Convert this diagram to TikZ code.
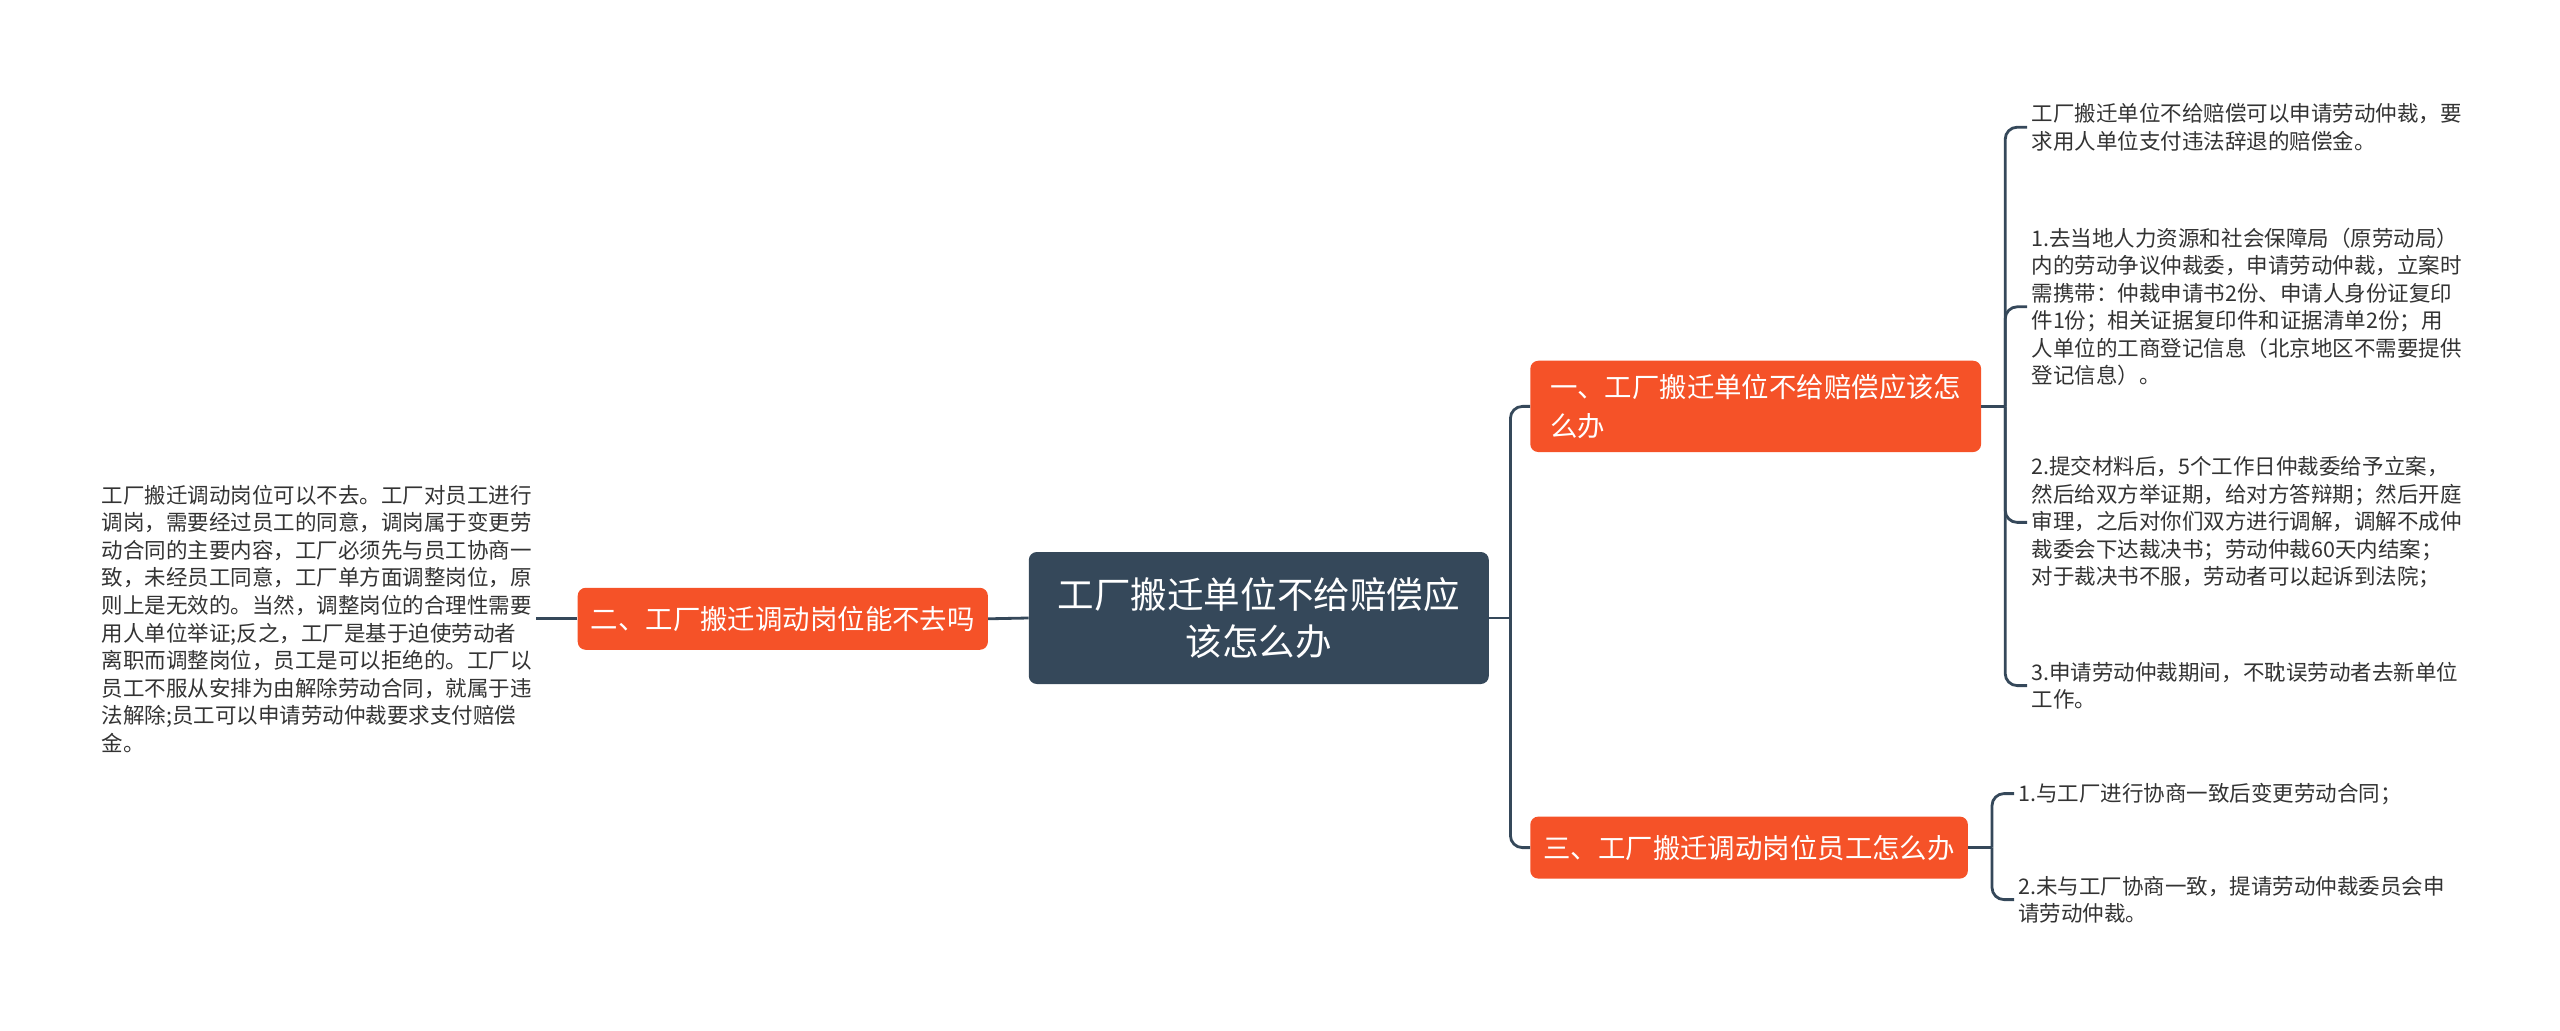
\documentclass[tikz,border=0pt]{standalone}
\usepackage{fontspec}
\newfontfamily\cjk{Noto Sans CJK SC}
\definecolor{topicblue}{HTML}{35485A}
\definecolor{branchred}{HTML}{F55228}
\definecolor{leafgray}{HTML}{333333}
\tikzset{
  topic/.style={rectangle, rounded corners=0.2cm, fill=topicblue, text=white,
    font=\cjk\fontsize{26}{34}\selectfont, align=center,
    minimum width=11.5cm, minimum height=3.3cm},
  branch/.style={rectangle, rounded corners=0.2cm, fill=branchred, text=white,
    font=\cjk\fontsize{19.5}{28}\selectfont, align=left,
    inner xsep=0.33cm, inner ysep=0.33cm, minimum height=1.55cm},
  leaf/.style={text=leafgray, font=\cjk\fontsize{15.3}{19.6}\selectfont,
    align=left, inner sep=0.1cm},
  link/.style={draw=topicblue, line width=2pt, rounded corners=0.3cm}
}
\begin{document}
\begin{tikzpicture}
  \useasboundingbox (0,0) rectangle (64,-25.76);
  % centre and main branches
  \node[topic] (main) at (31.47,-15.45) {工厂搬迁单位不给赔偿应\\该怎么办};
  \node[branch] (b2) at (19.57,-15.47) {二、工厂搬迁调动岗位能不去吗};
  \node[branch, anchor=west, minimum width=11.27cm] (b1) at (38.25,-10.16)
    {一、工厂搬迁单位不给赔偿应该怎\\么办};
  \node[branch, anchor=west] (b3) at (38.25,-21.19) {三、工厂搬迁调动岗位员工怎么办};
  % leaves
  \node[leaf, anchor=east] (l2) at (13.4,-15.47)
    {工厂搬迁调动岗位可以不去。工厂对员工进行\\
     调岗，需要经过员工的同意，调岗属于变更劳\\
     动合同的主要内容，工厂必须先与员工协商一\\
     致，未经员工同意，工厂单方面调整岗位，原\\
     则上是无效的。当然，调整岗位的合理性需要\\
     用人单位举证;反之，工厂是基于迫使劳动者\\
     离职而调整岗位，员工是可以拒绝的。工厂以\\
     员工不服从安排为由解除劳动合同，就属于违\\
     法解除;员工可以申请劳动仲裁要求支付赔偿\\
     金。};
  \node[leaf, anchor=west] (l11) at (50.68,-3.18)
    {工厂搬迁单位不给赔偿可以申请劳动仲裁，要\\
     求用人单位支付违法辞退的赔偿金。};
  \node[leaf, anchor=west] (l12) at (50.68,-7.67)
    {1.去当地人力资源和社会保障局（原劳动局）\\
     内的劳动争议仲裁委，申请劳动仲裁，立案时\\
     需携带：仲裁申请书2份、申请人身份证复印\\
     件1份；相关证据复印件和证据清单2份；用\\
     人单位的工商登记信息（北京地区不需要提供\\
     登记信息）。};
  \node[leaf, anchor=west] (l13) at (50.68,-13.06)
    {2.提交材料后，5个工作日仲裁委给予立案，\\
     然后给双方举证期，给对方答辩期；然后开庭\\
     审理，之后对你们双方进行调解，调解不成仲\\
     裁委会下达裁决书；劳动仲裁60天内结案；\\
     对于裁决书不服，劳动者可以起诉到法院；};
  \node[leaf, anchor=west] (l14) at (50.68,-17.14)
    {3.申请劳动仲裁期间，不耽误劳动者去新单位\\
     工作。};
  \node[leaf, anchor=west] (l31) at (50.35,-19.84)
    {1.与工厂进行协商一致后变更劳动合同；};
  \node[leaf, anchor=west] (l32) at (50.35,-22.49)
    {2.未与工厂协商一致，提请劳动仲裁委员会申\\
     请劳动仲裁。};
  % junctions
  \coordinate (jm) at (37.76,-15.45);
  \coordinate (j1) at (50.13,-10.16);
  \coordinate (j3) at (49.8,-21.19);
  % connectors
  \draw[link] (main.west) -- (b2.east);
  \draw[link] (b2.west) -- (l2.east);
  \draw[link] (main.east) -- (jm);
  \draw[link] (jm) |- (b1.west);
  \draw[link] (jm) |- (b3.west);
  \draw[link] (b1.east) -- (j1);
  \foreach \leafnode in {l11,l12,l13,l14}
    \draw[link] (j1) |- (\leafnode.west);
  \draw[link] (b3.east) -- (j3);
  \foreach \leafnode in {l31,l32}
    \draw[link] (j3) |- (\leafnode.west);
\end{tikzpicture}
\end{document}
